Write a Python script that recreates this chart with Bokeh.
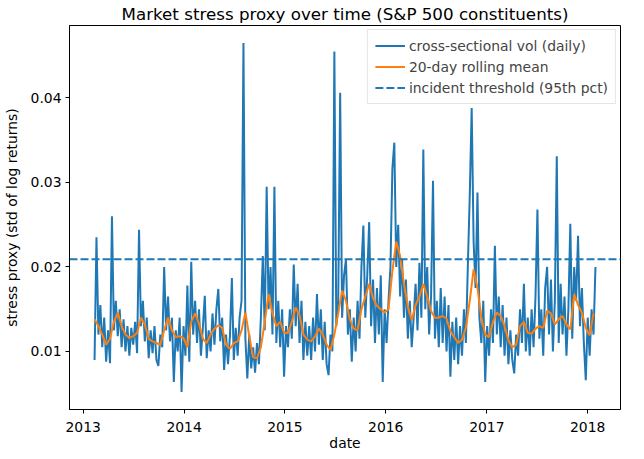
import numpy as np
import pandas as pd
from bokeh.plotting import figure
from bokeh.models import Range1d, FixedTicker, PrintfTickFormatter, DatetimeTickFormatter, Legend, LegendItem
from bokeh.embed import file_html
from bokeh.resources import INLINE

# ---- data (weekly samples of the daily series) ----
start_date = "2013-02-11"
vol_daily = [
    0.0090, 0.0235, 0.0120, 0.0155, 0.0105, 0.0140, 0.0088, 0.0125, 0.0086, 0.0260,
    0.0125, 0.0160, 0.0118, 0.0150, 0.0105, 0.0138, 0.0100, 0.0130, 0.0095, 0.0128,
    0.0108, 0.0135, 0.0098, 0.0244, 0.0130, 0.0160, 0.0112, 0.0140, 0.0092, 0.0125,
    0.0098, 0.0130, 0.0090, 0.0083, 0.0120, 0.0105, 0.0200, 0.0125, 0.0165, 0.0112,
    0.0140, 0.0064, 0.0125, 0.0100, 0.0140, 0.0052, 0.0130, 0.0095, 0.0178, 0.0088,
    0.0206, 0.0120, 0.0160, 0.0110, 0.0150, 0.0095, 0.0128, 0.0166, 0.0092, 0.0125,
    0.0100, 0.0145, 0.0108, 0.0150, 0.0174, 0.0112, 0.0140, 0.0078, 0.0120, 0.0085,
    0.0118, 0.0187, 0.0090, 0.0128, 0.0095, 0.0140, 0.0160, 0.0465, 0.0115, 0.0068,
    0.0120, 0.0080, 0.0105, 0.0075, 0.0110, 0.0085, 0.0140, 0.0213, 0.0125, 0.0295,
    0.0150, 0.0200, 0.0120, 0.0295, 0.0110, 0.0160, 0.0105, 0.0150, 0.0070, 0.0130,
    0.0105, 0.0150, 0.0115, 0.0203, 0.0130, 0.0180, 0.0110, 0.0160, 0.0090, 0.0135,
    0.0095, 0.0130, 0.0090, 0.0140, 0.0100, 0.0168, 0.0108, 0.0150, 0.0090, 0.0135,
    0.0085, 0.0072, 0.0120, 0.0100, 0.0455, 0.0130, 0.0160, 0.0406, 0.0140, 0.0190,
    0.0209, 0.0120, 0.0150, 0.0088, 0.0140, 0.0100, 0.0160, 0.0115, 0.0200, 0.0249,
    0.0140, 0.0190, 0.0253, 0.0130, 0.0185, 0.0110, 0.0175, 0.0120, 0.0190, 0.0064,
    0.0150, 0.0110, 0.0160, 0.0200, 0.0316, 0.0347, 0.0200, 0.0250, 0.0165, 0.0210,
    0.0140, 0.0185, 0.0115, 0.0160, 0.0105, 0.0140, 0.0180, 0.0125, 0.0205, 0.0140,
    0.0339, 0.0150, 0.0200, 0.0120, 0.0165, 0.0302, 0.0115, 0.0160, 0.0105, 0.0175,
    0.0110, 0.0165, 0.0100, 0.0155, 0.0070, 0.0135, 0.0090, 0.0140, 0.0085, 0.0130,
    0.0095, 0.0150, 0.0110, 0.0200, 0.0284, 0.0388, 0.0230, 0.0175, 0.0288, 0.0140,
    0.0110, 0.0160, 0.0064, 0.0130, 0.0095, 0.0150, 0.0110, 0.0225, 0.0120, 0.0165,
    0.0105, 0.0155, 0.0095, 0.0140, 0.0085, 0.0125, 0.0090, 0.0074, 0.0120, 0.0095,
    0.0150, 0.0110, 0.0180, 0.0100, 0.0140, 0.0095, 0.0150, 0.0105, 0.0165, 0.0268,
    0.0115, 0.0150, 0.0095, 0.0175, 0.0200, 0.0120, 0.0185, 0.0100, 0.0160, 0.0331,
    0.0110, 0.0180, 0.0120, 0.0165, 0.0095, 0.0150, 0.0251, 0.0115, 0.0200, 0.0160,
    0.0237, 0.0130, 0.0175, 0.0110, 0.0066, 0.0140, 0.0095, 0.0150, 0.0120, 0.0200,
]
# 20-day rolling mean, read every two weeks
rolling_mean = [
    0.0138, 0.0130, 0.0120, 0.0108, 0.0115, 0.0135, 0.0146, 0.0130, 0.0120, 0.0116,
    0.0118, 0.0122, 0.0140, 0.0132, 0.0115, 0.0112, 0.0110, 0.0108, 0.0125, 0.0140,
    0.0125, 0.0117, 0.0118, 0.0116, 0.0105, 0.0135, 0.0145, 0.0133, 0.0115, 0.0110,
    0.0120, 0.0127, 0.0131, 0.0128, 0.0108, 0.0103, 0.0110, 0.0112, 0.0125, 0.0146,
    0.0118, 0.0093, 0.0092, 0.0105, 0.0135, 0.0168, 0.0145, 0.0130, 0.0135, 0.0122,
    0.0122, 0.0135, 0.0152, 0.0143, 0.0120, 0.0114, 0.0112, 0.0118, 0.0127, 0.0120,
    0.0108, 0.0102, 0.0120, 0.0145, 0.0172, 0.0160, 0.0138, 0.0127, 0.0125, 0.0150,
    0.0165, 0.0180, 0.0163, 0.0154, 0.0150, 0.0146, 0.0150, 0.0195, 0.0230, 0.0213,
    0.0180, 0.0153, 0.0137, 0.0155, 0.0165, 0.0180, 0.0165, 0.0148, 0.0140, 0.0140,
    0.0142, 0.0139, 0.0124, 0.0117, 0.0110, 0.0114, 0.0128, 0.0160, 0.0197, 0.0175,
    0.0140, 0.0120, 0.0117, 0.0135, 0.0146, 0.0142, 0.0130, 0.0113, 0.0105, 0.0108,
    0.0130, 0.0135, 0.0122, 0.0121, 0.0127, 0.0130, 0.0128, 0.0148, 0.0145, 0.0132,
    0.0138, 0.0142, 0.0132, 0.0126, 0.0168, 0.0155, 0.0146, 0.0128, 0.0119, 0.0145,
]
threshold = 0.0209
year_ticks = ["2013", "2014", "2015", "2016", "2017", "2018"]

# ---- build ----
dates = pd.date_range(start_date, periods=len(vol_daily), freq="7D")
roll_dates = pd.date_range(start_date, periods=len(rolling_mean), freq="14D")

dmin, dmax = dates.min(), dates.max()
xpad = (dmax - dmin) * 0.05
x0, x1 = (dmin - xpad).to_pydatetime(), (dmax + xpad).to_pydatetime()
vmin, vmax = min(vol_daily), max(vol_daily)
ypad = (vmax - vmin) * 0.05

FONT = "DejaVu Sans"
FS = "13.9px"
p = figure(frame_width=551, frame_height=384, x_axis_type="datetime",
           output_backend="svg", toolbar_location=None,
           title="Market stress proxy over time (S&P 500 constituents)",
           x_range=Range1d(x0, x1), y_range=Range1d(vmin - ypad, vmax + ypad),
           min_border_left=61, min_border_right=8, min_border_top=19, min_border_bottom=0)

p.title.text_font = FONT
p.title.text_font_size = "16.7px"
p.title.text_font_style = "normal"
p.title.align = "center"
p.title.text_color = "black"
p.title.standoff = 3

r_vol = p.line(dates, vol_daily, line_color="#1f77b4", line_width=2)
r_roll = p.line(roll_dates, rolling_mean, line_color="#ff7f0e", line_width=2)
r_thr = p.line([x0, x1], [threshold, threshold], line_color="#1f77b4",
               line_width=2, line_dash="8 3")

legend = Legend(items=[
    LegendItem(label="cross-sectional vol (daily)", renderers=[r_vol]),
    LegendItem(label="20-day rolling mean", renderers=[r_roll]),
    LegendItem(label="incident threshold (95th pct)", renderers=[r_thr]),
], location="top_right")
legend.label_text_font = FONT
legend.label_text_font_size = FS
legend.glyph_width = 30
legend.glyph_height = 17
legend.label_height = 17
legend.label_standoff = 4
legend.spacing = 4
legend.padding = 7
legend.margin = 4
legend.border_line_color = "#cccccc"
legend.border_line_width = 1
legend.background_fill_alpha = 0.8
p.add_layout(legend)

p.xgrid.visible = False
p.ygrid.visible = False
p.outline_line_color = "black"
p.outline_line_alpha = 1.0
p.outline_line_width = 1

tick_ms = [pd.Timestamp(y + "-01-01").value / 1e6 for y in year_ticks]
p.xaxis.ticker = FixedTicker(ticks=tick_ms)
fmt = "%Y"
p.xaxis.formatter = DatetimeTickFormatter(years=fmt, months=fmt, days=fmt, hours=fmt,
                                          hourmin=fmt, minutes=fmt, minsec=fmt,
                                          seconds=fmt, milliseconds=fmt, microseconds=fmt)
p.yaxis.ticker = FixedTicker(ticks=[0.01, 0.02, 0.03, 0.04])
p.yaxis.formatter = PrintfTickFormatter(format="%.2f")

p.xaxis.axis_label = "date"
p.yaxis.axis_label = "stress proxy (std of log returns)"
for ax in (p.xaxis, p.yaxis):
    ax.axis_label_text_font = FONT
    ax.axis_label_text_font_size = FS
    ax.axis_label_text_font_style = "normal"
    ax.axis_label_text_color = "black"
    ax.major_label_text_font = FONT
    ax.major_label_text_font_size = FS
    ax.major_label_text_color = "black"
    ax.minor_tick_line_color = None
    ax.major_tick_out = 4
    ax.major_tick_in = 0
    ax.major_tick_line_color = "black"
    ax.axis_line_color = "black"
p.xaxis.major_label_standoff = 8
p.xaxis.axis_label_standoff = 0
p.yaxis.major_label_standoff = 4
p.yaxis.axis_label_standoff = 8

open("out.html", "w").write(file_html(p, INLINE))
